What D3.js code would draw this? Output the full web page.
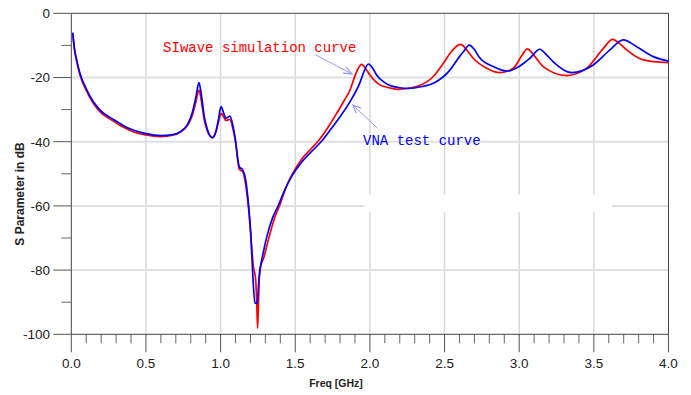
<!DOCTYPE html>
<html>
<head>
<meta charset="utf-8">
<script src="https://cdn.jsdelivr.net/npm/d3@7/dist/d3.min.js"></script>
<style>
  body { margin: 0; background: #fff; }
  svg { display: block; font-family: Arial, "Liberation Sans", sans-serif; }
</style>
</head>
<body>
<div id="chart"></div>
<script>
// frequency (GHz) and S parameter (dB)
var vnaFreq = [0.01, 0.02, 0.036, 0.06, 0.1, 0.147, 0.2, 0.28, 0.35, 0.41, 0.5, 0.6, 0.68, 0.73, 0.78, 0.81, 0.835, 0.855, 0.87, 0.89, 0.91, 0.945, 0.97, 0.985, 1.003, 1.02, 1.036, 1.063, 1.08, 1.096, 1.125, 1.148, 1.168, 1.186, 1.202, 1.215, 1.23, 1.246, 1.255, 1.264, 1.286, 1.31, 1.35, 1.387, 1.43, 1.48, 1.532, 1.6, 1.677, 1.74, 1.8, 1.867, 1.934, 1.96, 1.99, 2.02, 2.045, 2.09, 2.135, 2.2, 2.257, 2.35, 2.425, 2.536, 2.6, 2.626, 2.666, 2.7, 2.73, 2.826, 2.916, 3.005, 3.072, 3.138, 3.18, 3.228, 3.351, 3.496, 3.608, 3.697, 3.787, 3.898, 4.0];
var vnaDb = [-6, -10.5, -14.5, -19, -23.5, -27.5, -30.5, -33, -35, -36.3, -37.5, -38.1, -37.8, -36.9, -34.5, -31, -26, -21.6, -25, -32, -36, -38.7, -36.5, -33.2, -29.1, -31, -32.7, -32, -34.5, -38.4, -47.8, -48.8, -51.9, -59.2, -68.5, -81, -90.3, -90.3, -84, -80, -74.5, -69.5, -63.5, -59.8, -55, -50.5, -47, -43.5, -39.8, -36, -32.2, -27.5, -21.5, -18.2, -15.8, -17.2, -19.2, -21.3, -22.5, -23.2, -23.4, -22.8, -21.8, -17.7, -13.5, -12, -9.9, -11.3, -13.5, -16.6, -18, -16.4, -14, -11.2, -12.8, -15.1, -18.5, -16.1, -11.4, -8.3, -10.4, -13.5, -14.9];

var simFreq = [0.01, 0.02, 0.036, 0.06, 0.1, 0.147, 0.2, 0.28, 0.35, 0.41, 0.5, 0.6, 0.68, 0.73, 0.78, 0.81, 0.835, 0.855, 0.87, 0.89, 0.91, 0.945, 0.97, 0.985, 1.003, 1.02, 1.036, 1.063, 1.08, 1.1, 1.125, 1.15, 1.17, 1.19, 1.205, 1.22, 1.235, 1.242, 1.248, 1.255, 1.262, 1.29, 1.32, 1.36, 1.4, 1.44, 1.5, 1.55, 1.6, 1.654, 1.72, 1.777, 1.83, 1.867, 1.9, 1.92, 1.945, 1.975, 2.0, 2.067, 2.13, 2.19, 2.313, 2.425, 2.5, 2.536, 2.608, 2.65, 2.692, 2.782, 2.871, 2.961, 3.02, 3.055, 3.1, 3.161, 3.318, 3.452, 3.564, 3.626, 3.67, 3.72, 3.831, 3.999];
var simDb = [-6.5, -11, -15, -19.5, -24, -28, -31, -33.5, -35.5, -36.8, -37.9, -38.4, -38, -37, -34.8, -31.8, -27.5, -23.9, -27, -33, -36.5, -38.8, -36.8, -34, -31.2, -32.2, -33.4, -33, -35.5, -40, -48.5, -49.5, -54, -62, -71, -79, -83, -90, -98.1, -88, -80, -76, -70.5, -64, -59.3, -54, -48.5, -45, -42.5, -39.8, -35.5, -31.2, -27, -23.9, -19.5, -17.3, -15.9, -17.5, -19.2, -22.3, -23.2, -23.7, -22.8, -19.7, -15, -12.5, -9.7, -11.5, -14, -17.1, -18.5, -17.1, -13, -11.1, -13.2, -16.6, -19.4, -17.1, -10.9, -8.1, -9.3, -11.4, -14.5, -15.4];

var xTicks = [0, 0.5, 1.0, 1.5, 2.0, 2.5, 3.0, 3.5, 4.0];
var yTicks = [0, -20, -40, -60, -80, -100];

var W = 691, H = 395;
var plotL = 71.3, plotR = 668.5, plotT = 13.3, plotB = 334.3;

var svg = d3.select('#chart').append('svg')
    .attr('width', W)
    .attr('height', H);

svg.append('rect').attr('width', W).attr('height', H).attr('fill', '#fff');

var x = d3.scaleLinear().domain([0, 4]).range([plotL, plotR]),
    y = d3.scaleLinear().domain([-100, 0]).range([plotB, plotT]);

// grid
svg.append('g').selectAll('line')
    .data(xTicks.slice(1, -1)).enter().append('line')
    .attr('x1', function (d) { return x(d); })
    .attr('x2', function (d) { return x(d); })
    .attr('y1', plotT).attr('y2', plotB)
    .attr('stroke', '#d9d9d9').attr('stroke-width', 1.5);

svg.append('g').selectAll('line')
    .data(yTicks.slice(1, -1)).enter().append('line')
    .attr('x1', plotL).attr('x2', plotR)
    .attr('y1', function (d) { return y(d); })
    .attr('y2', function (d) { return y(d); })
    .attr('stroke', '#e0e0e0').attr('stroke-width', 2);

// blanked patch on the -60 grid line
svg.append('rect')
    .attr('x', x(1.965)).attr('y', y(-56.5))
    .attr('width', x(3.62) - x(1.965)).attr('height', y(-62) - y(-56.5))
    .attr('fill', '#fff');

// y ticks
var yAxis = svg.append('g').attr('class', 'axis-left');
yAxis.selectAll('.major').data(yTicks).enter().append('line')
    .attr('x1', plotL - 18).attr('x2', plotL)
    .attr('y1', function (d) { return y(d); })
    .attr('y2', function (d) { return y(d); })
    .attr('stroke', '#555').attr('stroke-width', 1);
yAxis.selectAll('.minor').data(d3.range(-10, -100, -20)).enter().append('line')
    .attr('x1', plotL - 10).attr('x2', plotL)
    .attr('y1', function (d) { return y(d); })
    .attr('y2', function (d) { return y(d); })
    .attr('stroke', '#666').attr('stroke-width', 1);
yAxis.selectAll('text').data(yTicks).enter().append('text')
    .attr('x', 50).attr('y', function (d) { return y(d); })
    .attr('dy', '0.36em')
    .attr('text-anchor', 'end')
    .attr('font-size', 13.5)
    .attr('fill', '#222')
    .text(function (d) { return d; });

// x ticks
var xAxis = svg.append('g').attr('class', 'axis-bottom');
xAxis.selectAll('.minor').data(d3.range(1, 40).filter(function (i) { return i % 5; })).enter().append('line')
    .attr('x1', function (d) { return x(d / 10); })
    .attr('x2', function (d) { return x(d / 10); })
    .attr('y1', plotB).attr('y2', plotB + 9)
    .attr('stroke', '#666').attr('stroke-width', 1);
xAxis.selectAll('.major').data(xTicks).enter().append('line')
    .attr('x1', function (d) { return x(d); })
    .attr('x2', function (d) { return x(d); })
    .attr('y1', plotB).attr('y2', plotB + 18)
    .attr('stroke', '#555').attr('stroke-width', 1);
xAxis.selectAll('text').data(xTicks).enter().append('text')
    .attr('x', function (d) { return x(d); })
    .attr('y', plotB + 34)
    .attr('text-anchor', 'middle')
    .attr('font-size', 13.5)
    .attr('fill', '#222')
    .text(function (d) { return d.toFixed(1); });

// frame
svg.append('path')
    .attr('d', 'M' + plotL + ',' + plotB + 'V' + plotT + 'H' + plotR + 'V' + plotB + 'Z')
    .attr('fill', 'none').attr('stroke', '#444').attr('stroke-width', 1);

// axis titles
svg.append('text')
    .attr('x', 336).attr('y', 387)
    .attr('text-anchor', 'middle')
    .attr('font-size', 10.5).attr('font-weight', 'bold')
    .attr('fill', '#222')
    .text('Freq [GHz]');
svg.append('text')
    .attr('transform', 'translate(24,194) rotate(-90)')
    .attr('text-anchor', 'middle')
    .attr('font-size', 12).attr('font-weight', 'bold')
    .attr('fill', '#222')
    .text('S Parameter in dB');

// curves
var line = d3.line()
    .x(function (d) { return x(d[0]); })
    .y(function (d) { return y(d[1]); })
    .curve(d3.curveMonotoneX);

svg.append('path')
    .datum(d3.zip(simFreq, simDb))
    .attr('fill', 'none').attr('stroke', '#ff0000')
    .attr('stroke-width', 1.7).attr('stroke-linejoin', 'round')
    .attr('d', line);
svg.append('path')
    .datum(d3.zip(vnaFreq, vnaDb))
    .attr('fill', 'none').attr('stroke', '#0000ff')
    .attr('stroke-width', 1.7).attr('stroke-linejoin', 'round')
    .attr('d', line);

// annotations
function arrow(f0, d0, f1, d1) {
    var x0 = x(f0), y0 = y(d0), x1 = x(f1), y1 = y(d1);
    var a = Math.atan2(y1 - y0, x1 - x0), L = 9, s = 0.4;
    svg.append('line')
        .attr('x1', x0).attr('y1', y0).attr('x2', x1).attr('y2', y1)
        .attr('stroke', '#9999ff').attr('stroke-width', 1);
    svg.append('path')
        .attr('d', 'M' + (x1 - L * Math.cos(a - s)) + ',' + (y1 - L * Math.sin(a - s)) +
            'L' + x1 + ',' + y1 +
            'L' + (x1 - L * Math.cos(a + s)) + ',' + (y1 - L * Math.sin(a + s)))
        .attr('fill', 'none').attr('stroke', '#9999ff').attr('stroke-width', 1.2);
}
arrow(1.639, -13, 1.88, -18.9);
arrow(2.048, -35.7, 1.886, -28.6);

svg.append('text')
    .attr('x', x(0.615)).attr('y', y(-12.1))
    .attr('font-family', '"Liberation Mono", "DejaVu Sans Mono", monospace')
    .attr('font-size', 14).attr('fill', '#ff0000')
    .text('SIwave simulation curve');
svg.append('text')
    .attr('x', x(1.954)).attr('y', y(-41))
    .attr('font-family', '"Liberation Mono", "DejaVu Sans Mono", monospace')
    .attr('font-size', 14).attr('fill', '#0000ff')
    .text('VNA test curve');
</script>
</body>
</html>
